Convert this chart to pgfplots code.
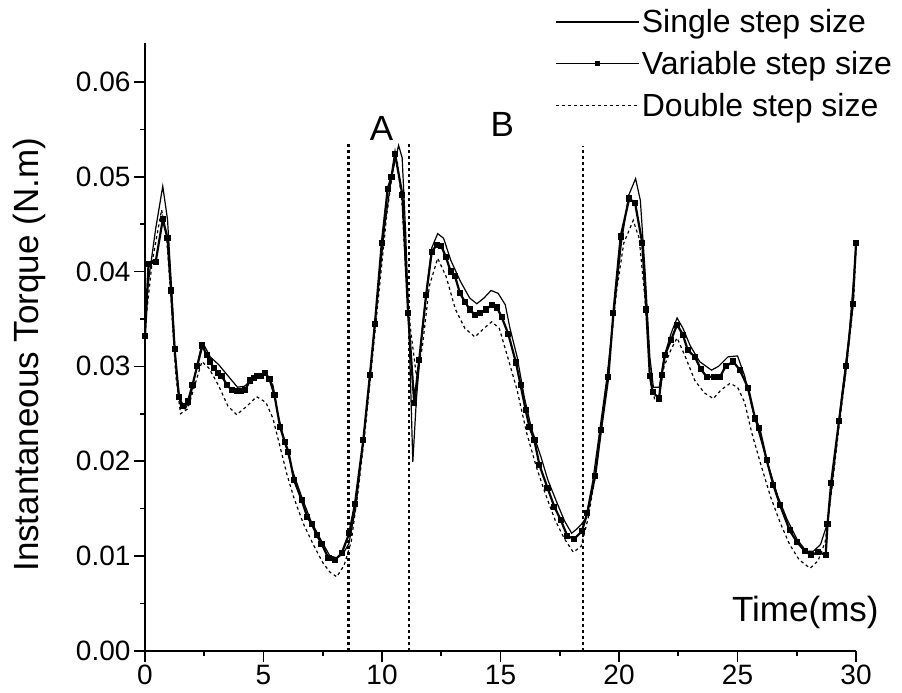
\documentclass[border=0pt]{standalone}
\usepackage{fontspec}
\setmainfont{Liberation Sans}
\usepackage{pgfplots}
\pgfplotsset{compat=1.18}
\pgfplotsset{
  legline/.style={legend image code/.code={\draw[##1] (0pt,0pt) -- (83pt,0pt);}},
  legmark/.style={legend image code/.code={\draw[##1, line width=1.2pt, mark repeat=2, mark phase=2] plot coordinates {(0pt,0pt) (41.5pt,0pt) (83pt,0pt)};}},
}
\begin{document}
\begin{tikzpicture}
\begin{axis}[
  scale only axis,
  width=711pt, height=607.7pt,
  xmin=0, xmax=30, ymin=0, ymax=0.0641,
  axis lines*=left,
  axis line style={line width=2.2pt},
  clip=false,
  scaled y ticks=false,
  xtick={0,5,10,15,20,25,30},
  xticklabels={0,5,10,15,20,25,30},
  ytick={0,0.01,0.02,0.03,0.04,0.05,0.06},
  yticklabels={0.00,0.01,0.02,0.03,0.04,0.05,0.06},
  minor x tick num=1, minor y tick num=1,
  tick align=outside,
  major tick length=11pt, minor tick length=5pt,
  every tick/.style={black, line width=1.6pt},
  tick label style={font=\fontsize{28}{32}\selectfont},
  ylabel={Instantaneous Torque (N.m)},
  ylabel style={font=\fontsize{35}{40}\selectfont, at={(rel axis cs:-0.163,0.487)}, anchor=center},
  legend cell align=left,
  legend style={draw=none, fill=none, font=\fontsize{32}{36}\selectfont,
    at={(rel axis cs:1.058,1.062)}, anchor=north east, row sep=13pt},
]
\addplot[black, line width=1.2pt, legline] coordinates {
(0,0.0355) (0.2,0.040) (0.45,0.0445) (0.75,0.0490) (0.95,0.0455) (1.15,0.037) (1.3,0.030) (1.5,0.0258) (1.7,0.0255) (1.9,0.0265) (2.1,0.029) (2.35,0.0318) (2.5,0.0322) (2.75,0.0310) (3.1,0.0302) (3.5,0.0290) (3.9,0.0278) (4.2,0.0279) (4.5,0.0286) (4.8,0.0291) (5.1,0.0293) (5.4,0.0280) (5.6,0.0250) (5.9,0.0220) (6.2,0.0192) (6.6,0.0163) (7.0,0.0137) (7.4,0.0118) (7.8,0.0100) (8.1,0.0098) (8.35,0.0102) (8.6,0.0113) (8.9,0.0152) (9.2,0.0220) (9.5,0.0290) (9.8,0.0370) (10.1,0.0445) (10.4,0.0500) (10.7,0.0533) (10.85,0.0520) (11.0,0.0440) (11.15,0.0330) (11.3,0.0199) (11.45,0.0265) (11.7,0.0340) (11.9,0.0385) (12.1,0.0425) (12.35,0.0440) (12.6,0.0435) (12.9,0.0412) (13.3,0.0390) (13.7,0.0372) (14.0,0.0366) (14.3,0.0372) (14.6,0.0380) (14.9,0.0377) (15.2,0.0365) (15.4,0.0340) (15.7,0.0310) (16.0,0.0268) (16.3,0.0235) (16.7,0.0205) (17.0,0.0180) (17.4,0.0155) (17.7,0.0137) (18.0,0.0124) (18.2,0.0128) (18.4,0.0133) (18.6,0.0140) (18.9,0.0180) (19.2,0.0235) (19.5,0.0290) (19.8,0.0360) (20.1,0.0430) (20.4,0.0480) (20.7,0.0498) (20.9,0.0475) (21.1,0.0400) (21.3,0.0310) (21.45,0.0278) (21.7,0.0278) (21.9,0.0310) (22.2,0.0335) (22.45,0.0351) (22.7,0.0340) (23.0,0.0322) (23.4,0.0305) (23.9,0.0296) (24.2,0.0300) (24.6,0.0310) (25.0,0.0311) (25.3,0.0290) (25.6,0.0258) (25.9,0.0230) (26.3,0.0195) (26.7,0.0163) (27.1,0.0138) (27.5,0.0118) (27.9,0.0105) (28.2,0.0105) (28.5,0.0112) (28.8,0.0135) (29.1,0.0200) (29.4,0.0270) (29.7,0.0330) (30.0,0.0425)
};
\addlegendentry{Single step size}
\addplot[black, line width=2.2pt, mark=square*, mark size=2pt, mark options={solid}, legmark] coordinates {
(0,0.0332) (0.15,0.0408) (0.45,0.0410) (0.75,0.0455) (0.95,0.0435) (1.1,0.0380) (1.25,0.0318) (1.43,0.0268) (1.6,0.0258) (1.81,0.0263) (2.0,0.0280) (2.2,0.0300) (2.42,0.0322) (2.6,0.0312) (2.74,0.0305) (2.9,0.0298) (3.09,0.0293) (3.23,0.0290) (3.47,0.0280) (3.66,0.0275) (3.9,0.0274) (4.05,0.0274) (4.22,0.0275) (4.43,0.0285) (4.6,0.0288) (4.71,0.0290) (4.9,0.0290) (5.06,0.0293) (5.25,0.0287) (5.46,0.0270) (5.7,0.0236) (5.9,0.0220) (6.05,0.0210) (6.29,0.0180) (6.61,0.0159) (6.85,0.0141) (7.03,0.0134) (7.25,0.0122) (7.45,0.0113) (7.74,0.00975) (8.02,0.0096) (8.3,0.0103) (8.62,0.0124) (8.86,0.0155) (9.21,0.0222) (9.49,0.0291) (9.7,0.0345) (9.99,0.0430) (10.24,0.0487) (10.4,0.0500) (10.55,0.0524) (10.86,0.0481) (11.1,0.0356) (11.36,0.0261) (11.57,0.0307) (11.86,0.0375) (12.1,0.0421) (12.31,0.0428) (12.5,0.0427) (12.7,0.0415) (12.9,0.0400) (13.08,0.0395) (13.29,0.0377) (13.5,0.0368) (13.7,0.0360) (13.92,0.0354) (14.15,0.0356) (14.4,0.0360) (14.63,0.0365) (14.85,0.0362) (15.05,0.0352) (15.33,0.0334) (15.65,0.0304) (15.85,0.0280) (16.06,0.0254) (16.22,0.0236) (16.43,0.0222) (16.64,0.0196) (16.98,0.0172) (17.27,0.0152) (17.54,0.0138) (17.82,0.0121) (18.11,0.0118) (18.43,0.0126) (18.66,0.0145) (18.99,0.0184) (19.24,0.0233) (19.55,0.0289) (19.76,0.0356) (20.07,0.0437) (20.43,0.0477) (20.68,0.0472) (20.98,0.0430) (21.15,0.0360) (21.3,0.0290) (21.42,0.0273) (21.69,0.0266) (21.8,0.0291) (21.94,0.0312) (22.2,0.0328) (22.45,0.0344) (22.7,0.0333) (22.9,0.0317) (23.2,0.0310) (23.45,0.0297) (23.7,0.0289) (24.0,0.0289) (24.26,0.0289) (24.5,0.0300) (24.82,0.0305) (25.1,0.0296) (25.45,0.0277) (25.74,0.0245) (25.92,0.0235) (26.23,0.0201) (26.51,0.0175) (26.79,0.0154) (27.2,0.0127) (27.5,0.0115) (27.85,0.0105) (28.09,0.0101) (28.41,0.0104) (28.72,0.0101) (28.8,0.0134) (28.95,0.0177) (29.28,0.0242) (29.58,0.0300) (29.86,0.0366) (30.0,0.0430)
};
\addlegendentry{Variable step size}
\addplot[black, line width=1.2pt, dash pattern=on 3pt off 3pt, legline] coordinates {
(0,0.0340) (0.3,0.0410) (0.7,0.0465) (0.9,0.0440) (1.1,0.0370) (1.3,0.0290) (1.5,0.0250) (1.8,0.0255) (2.1,0.0280) (2.4,0.0305) (2.7,0.0298) (3.1,0.0280) (3.5,0.0258) (3.87,0.0249) (4.3,0.0258) (4.71,0.0268) (5.1,0.0262) (5.4,0.0245) (5.7,0.0215) (6.0,0.0185) (6.3,0.0160) (6.7,0.0133) (7.1,0.0112) (7.5,0.0093) (7.8,0.0083) (8.09,0.0078) (8.4,0.0090) (8.7,0.0115) (9.0,0.0170) (9.3,0.0235) (9.6,0.0310) (9.9,0.0385) (10.2,0.0460) (10.5,0.0515) (10.65,0.0515) (10.85,0.0470) (11.0,0.0400) (11.2,0.0340) (11.45,0.0290) (11.7,0.0320) (12.0,0.0385) (12.35,0.0414) (12.7,0.0395) (13.1,0.0360) (13.5,0.0340) (13.92,0.0331) (14.3,0.0340) (14.63,0.0347) (14.95,0.0340) (15.3,0.0310) (15.7,0.0275) (16.1,0.0230) (16.5,0.0195) (16.9,0.0165) (17.3,0.0138) (17.7,0.0118) (18.07,0.0104) (18.4,0.0110) (18.7,0.0140) (19.0,0.0185) (19.3,0.0245) (19.6,0.0310) (19.9,0.0380) (20.2,0.0430) (20.6,0.0454) (20.85,0.0435) (21.1,0.0370) (21.3,0.0300) (21.5,0.0265) (21.7,0.0270) (21.9,0.0300) (22.2,0.0318) (22.45,0.0330) (22.8,0.0310) (23.2,0.0285) (23.6,0.0272) (23.98,0.0266) (24.3,0.0275) (24.68,0.0282) (25.0,0.0278) (25.3,0.0262) (25.6,0.0230) (26.0,0.0195) (26.4,0.0162) (26.8,0.0135) (27.2,0.0112) (27.6,0.0096) (28.06,0.0087) (28.4,0.0095) (28.7,0.0115) (29.0,0.0175) (29.3,0.0240) (29.6,0.0300) (29.9,0.0370) (30.0,0.0425)
};
\addlegendentry{Double step size}
\addplot[forget plot, black, line width=2.4pt, dash pattern=on 2.4pt off 3.6pt] coordinates {(8.58,0) (8.58,0.0535)};
\addplot[forget plot, black, line width=2.4pt, dash pattern=on 2.4pt off 3.6pt] coordinates {(11.15,0) (11.15,0.0535)};
\addplot[forget plot, black, line width=2.4pt, dash pattern=on 2.4pt off 3.6pt] coordinates {(18.47,0) (18.47,0.0532)};
\node[anchor=base, font=\fontsize{35}{40}\selectfont] at (axis cs:9.98,0.05387) {A};
\node[anchor=base, font=\fontsize{35}{40}\selectfont] at (axis cs:15.08,0.0542) {B};
\node[anchor=base east, font=\fontsize{35}{40}\selectfont] at (axis cs:31.1,0.00306) {Time(ms)};
\coordinate (bl) at (axis cs:-6.118,-0.004357);
\coordinate (tr) at (axis cs:31.94,0.06864);
\end{axis}
\pgfresetboundingbox
\useasboundingbox (bl) rectangle (tr);
\end{tikzpicture}
\end{document}
